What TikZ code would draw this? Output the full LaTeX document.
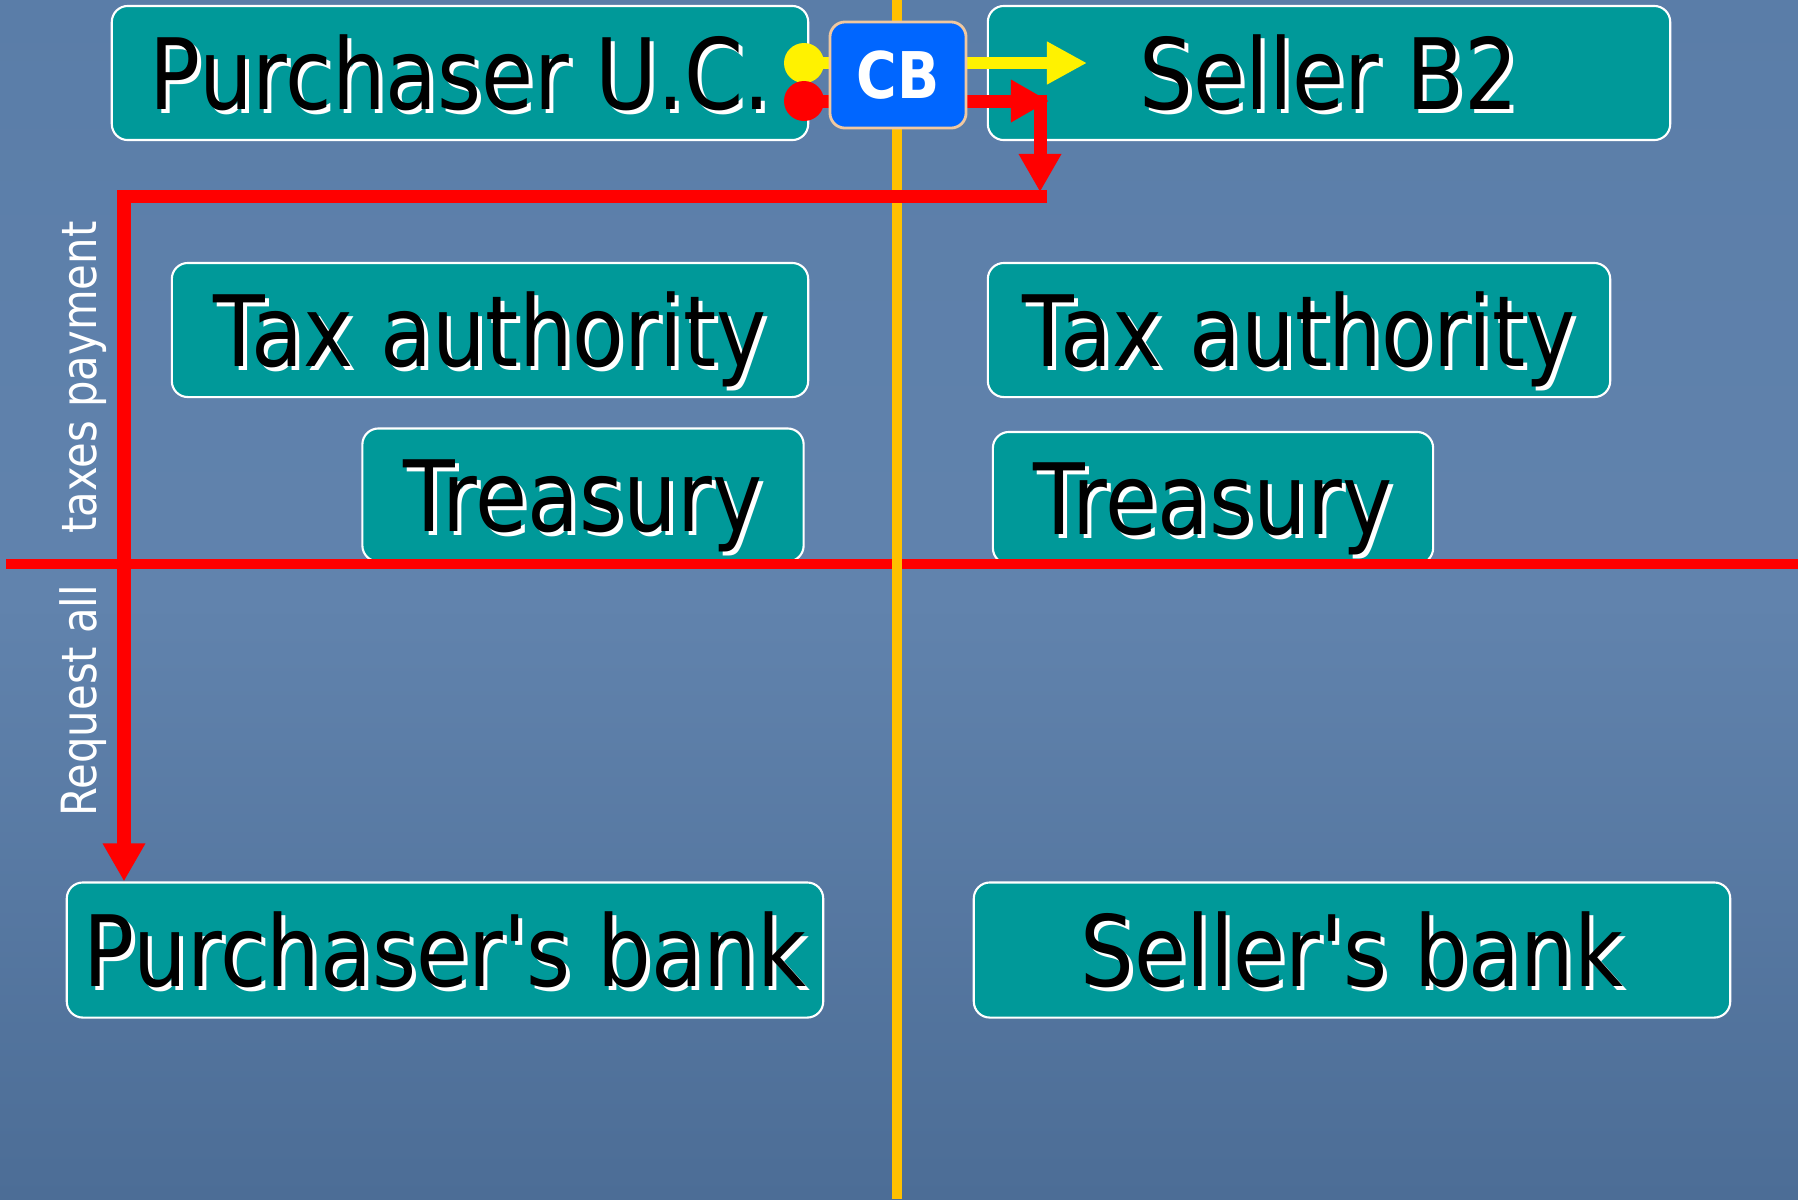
\documentclass[tikz,border=0pt]{standalone}
\usepackage{fontspec}
\newfontfamily\boxfont[FakeStretch=0.86]{DejaVu Sans}
\newfontfamily\boxfontbf[FakeStretch=0.86]{DejaVu Sans Bold}
\usetikzlibrary{arrows.meta}
\definecolor{bgtop}{HTML}{5A7DA8}
\definecolor{bgmid}{HTML}{6183AD}
\definecolor{bgbot}{HTML}{4C6D96}
\definecolor{tealbox}{HTML}{009999}
\definecolor{cbblue}{HTML}{0066FF}
\definecolor{cbedge}{HTML}{F0C8A0}
\definecolor{axisorange}{HTML}{FFC000}
\newcommand\shtext[1]{\makebox[0pt][l]{\kern0.04cm\raisebox{-0.04cm}{\color{white}#1}}#1}

\begin{document}
\begin{tikzpicture}[x=0.01cm,y=-0.01cm,
  party/.style={draw=white,line width=0.6pt,fill=tealbox,rounded corners=0.16cm,
    font=\boxfont\fontsize{28}{32}\selectfont,text=black,
    text height=0.72cm,text depth=0cm,minimum height=1.34cm,inner sep=0pt},
  dot/.style={circle,inner sep=0pt,minimum size=0.4cm},
  redline/.style={red,line width=0.13cm},
  redarrow/.style={redline,-{Triangle[width=0.4cm,length=0.38cm]}}]
% background
\shade[top color=bgtop,bottom color=bgbot,middle color=bgmid] (0,0) rectangle (1798,1199);
\useasboundingbox (0,0) rectangle (1798,1199);
% boxes
\node[party,minimum width=6.96cm] (puc) at (460,73) {\shtext{Purchaser U.C.}};
\node[party,minimum width=6.82cm] (sb2) at (1329,73) {\shtext{Seller B2}};
\node[party,minimum width=6.36cm] (tax1) at (490,330) {\shtext{Tax authority}};
\node[party,minimum width=6.22cm] (tax2) at (1299,330) {\shtext{Tax authority}};
\node[party,minimum width=4.41cm,minimum height=1.33cm] (tre1) at (583,495) {\shtext{Treasury}};
\node[party,minimum width=4.40cm,minimum height=1.32cm] (tre2) at (1213,498) {\shtext{Treasury}};
\node[party,minimum width=7.56cm,minimum height=1.35cm] (pb) at (445,950) {\shtext{Purchaser's bank}};
\node[party,minimum width=7.56cm,minimum height=1.35cm] (sbk) at (1352,950) {\shtext{Seller's bank}};
% dividing lines
\draw[red,line width=0.1cm] (6,564) -- (1798,564);
\draw[axisorange,line width=0.1cm] (897,0) -- (897,1199);
% card payment
\node[dot,fill=yellow] (ydot) at (804,63) {};
\node[dot,fill=red] (rdot) at (804,101) {};
\coordinate (ytip) at (1087,63);
\coordinate (rtip) at (1049,101);
\coordinate (dtop) at (1040,95);
\coordinate (dtip) at (1040,192);
\coordinate (turn) at (1047,196);
\coordinate (corner) at (124,196);
\draw[yellow,line width=0.12cm,-{Triangle[width=0.4cm,length=0.4cm]}] (ydot.center) -- (ytip);
\draw[redarrow] (rdot.center) -- (rtip);
\draw[redarrow] (dtop) -- (dtip);
\draw[redarrow] (turn) -- (corner) -- (corner |- pb.north);
\node[draw=cbedge,line width=0.8pt,fill=cbblue,rounded corners=0.15cm,
  minimum width=1.36cm,minimum height=1.06cm,inner sep=0pt,text=white,
  font=\boxfontbf\fontsize{18.3}{20}\selectfont] (cb) at (898,75) {CB};
% side label
\node[rotate=90,text=white,font=\boxfont\fontsize{13.8}{15}\selectfont] (req) at (83,519)
  {Request all\hspace{0.38cm} taxes payment};
\end{tikzpicture}
\end{document}
